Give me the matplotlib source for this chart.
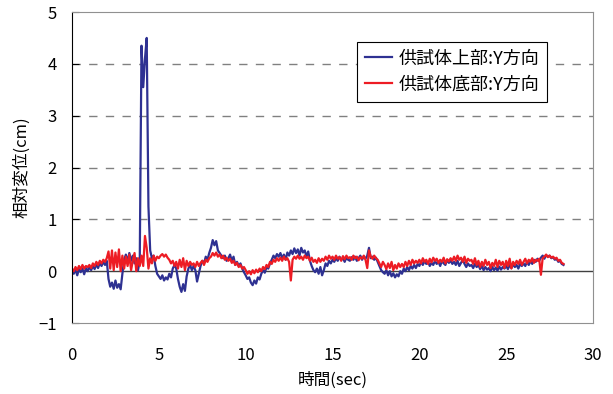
import numpy as np
import matplotlib
matplotlib.use("Agg")
import matplotlib.pyplot as plt

plt.rcParams['font.family'] = ['Noto Sans CJK JP', 'DejaVu Sans']

# sampled every 0.1 sec, 0.0 .. 28.3
dt = 0.1
top_y = [  # 供試体上部 Y方向 (cm)
    0.02, -0.05, 0.03, -0.08, 0.04, -0.02, 0.05, -0.06, 0.06, 0.00,
    0.08, 0.02, 0.10, 0.04, 0.13, 0.06, 0.16, 0.10, 0.18, 0.12,
    0.20, -0.15, -0.30, -0.22, -0.34, -0.18, -0.32, -0.25, -0.35, -0.05,
    0.22, 0.32, 0.18, 0.35, 0.20, 0.30, 0.15, 0.25, 0.02, 0.20,
    4.35, 3.55, 4.10, 4.50, 1.25, 0.40, 0.25, 0.30, 0.10, -0.05,
    -0.10, -0.15, -0.08, -0.18, -0.12, -0.16, -0.05, -0.12, 0.05, 0.12,
    0.05, -0.15, -0.30, -0.40, -0.25, -0.38, -0.10, 0.05, 0.12, 0.02,
    0.10, 0.02, -0.20, -0.05, 0.10, 0.20, 0.15, 0.28, 0.22, 0.35,
    0.45, 0.60, 0.50, 0.58, 0.40, 0.35, 0.30, 0.25, 0.30, 0.20,
    0.25, 0.32, 0.20, 0.28, 0.12, 0.18, 0.10, 0.15, 0.05, -0.02,
    -0.08, -0.15, -0.12, -0.22, -0.27, -0.18, -0.24, -0.12, -0.16, -0.05,
    0.02, -0.03, 0.08, 0.05, 0.15, 0.22, 0.30, 0.25, 0.33, 0.28,
    0.35, 0.25, 0.32, 0.22, 0.36, 0.30, 0.40, 0.33, 0.44, 0.35,
    0.42, 0.30, 0.45, 0.36, 0.40, 0.28, 0.38, 0.20, 0.10, 0.02,
    -0.02, 0.05, -0.05, 0.08, -0.08, 0.02, 0.15, 0.10, 0.20, 0.15,
    0.22, 0.18, 0.25, 0.20, 0.28, 0.22, 0.25, 0.18, 0.26, 0.22,
    0.20, 0.27, 0.22, 0.28, 0.20, 0.25, 0.30, 0.22, 0.28, 0.24,
    0.30, 0.45, 0.25, 0.28, 0.22, 0.26, 0.18, 0.10, 0.02, -0.02,
    -0.05, 0.02, -0.08, 0.00, -0.10, -0.04, -0.12, -0.06, -0.10, 0.00,
    -0.05, 0.05, 0.00, 0.08, 0.02, 0.10, 0.05, 0.12, 0.06, 0.14,
    0.10, 0.18, 0.12, 0.20, 0.14, 0.18, 0.10, 0.16, 0.12, 0.20,
    0.14, 0.18, 0.10, 0.20, 0.15, 0.12, 0.22, 0.16, 0.20, 0.14,
    0.18, 0.12, 0.20, 0.10, 0.16, 0.22, 0.14, 0.08, 0.15, 0.10,
    0.12, 0.06, 0.14, 0.08, 0.12, 0.04, 0.10, 0.02, 0.08, 0.03,
    0.06, 0.00, 0.08, 0.02, 0.07, 0.01, 0.09, 0.03, 0.08, 0.05,
    0.10, 0.04, 0.12, 0.06, 0.13, 0.08, 0.12, 0.05, 0.14, 0.10,
    0.15, 0.10, 0.18, 0.12, 0.20, 0.14, 0.22, 0.18, 0.24, 0.20,
    0.26, 0.30, 0.24, 0.31, 0.28, 0.30, 0.25, 0.27, 0.22, 0.24,
    0.18, 0.20, 0.14, 0.12,
]
bottom_y = [  # 供試体底部 Y方向 (cm)
    0.05, 0.00, 0.08, 0.02, 0.10, 0.04, 0.12, 0.05, 0.10, 0.08,
    0.12, 0.06, 0.15, 0.10, 0.18, 0.12, 0.20, 0.15, 0.22, 0.18,
    0.25, 0.38, 0.05, 0.40, 0.02, 0.36, 0.08, 0.42, 0.00, 0.30,
    0.05, 0.28, 0.10, 0.32, 0.02, 0.20, 0.35, 0.00, 0.25, 0.10,
    0.30, 0.10, 0.68, 0.45, 0.05, 0.25, 0.15, 0.30, 0.20, 0.28,
    0.25, 0.30, 0.33, 0.28, 0.32, 0.26, 0.22, 0.15, 0.20, 0.10,
    0.18, 0.05, 0.22, 0.08, 0.25, 0.02, 0.20, 0.10, 0.18, 0.12,
    0.15, 0.08, 0.18, 0.10, 0.16, 0.20, 0.12, 0.22, 0.18, 0.25,
    0.28, 0.35, 0.30, 0.36, 0.28, 0.32, 0.25, 0.30, 0.22, 0.26,
    0.20, 0.24, 0.16, 0.20, 0.12, 0.16, 0.08, 0.12, 0.05, 0.08,
    0.02, -0.05, 0.00, -0.06, 0.02, -0.04, 0.03, -0.02, 0.05, 0.00,
    0.08, 0.04, 0.12, 0.08, 0.18, 0.14, 0.22, 0.18, 0.25, 0.20,
    0.26, 0.20, 0.28, 0.22, 0.25, 0.18, -0.18, 0.22, 0.28, 0.24,
    0.30, 0.24, 0.28, 0.22, 0.30, 0.25, 0.28, 0.20, 0.26, 0.18,
    0.22, 0.16, 0.25, 0.18, 0.24, 0.20, 0.28, 0.22, 0.30, 0.24,
    0.28, 0.22, 0.30, 0.24, 0.27, 0.20, 0.29, 0.23, 0.30, 0.25,
    0.27, 0.22, 0.30, 0.25, 0.28, 0.21, 0.27, 0.24, 0.30, 0.22,
    0.06, 0.40, 0.28, 0.24, 0.30, 0.25, 0.22, 0.15, 0.08, 0.18,
    0.12, 0.04, 0.15, 0.06, 0.18, 0.02, 0.12, 0.05, 0.15, 0.08,
    0.14, 0.08, 0.18, 0.10, 0.20, 0.12, 0.22, 0.15, 0.20, 0.16,
    0.22, 0.15, 0.25, 0.18, 0.22, 0.14, 0.24, 0.17, 0.26, 0.20,
    0.24, 0.16, 0.22, 0.18, 0.26, 0.15, 0.23, 0.19, 0.25, 0.20,
    0.28, 0.20, 0.30, 0.22, 0.26, 0.18, 0.28, 0.16, 0.24, 0.20,
    0.22, 0.14, 0.25, 0.12, 0.20, 0.08, 0.18, 0.10, 0.22, 0.12,
    0.18, 0.06, 0.16, 0.10, 0.22, 0.08, 0.20, 0.12, 0.18, 0.06,
    0.20, 0.10, 0.24, 0.05, 0.18, 0.12, 0.20, 0.14, 0.22, 0.12,
    0.18, 0.24, 0.15, 0.22, 0.18, 0.25, 0.16, 0.22, 0.20, 0.24,
    -0.07, 0.25, 0.28, 0.32, 0.27, 0.30, 0.26, 0.28, 0.24, 0.26,
    0.20, 0.22, 0.16, 0.14,
]
t = np.arange(len(top_y)) * dt

fig = plt.figure(figsize=(6.13, 3.94), dpi=100)
ax = fig.add_axes([0.1175, 0.1802, 0.8499, 0.7893])

ax.plot(t, top_y, color='#2E3192', lw=1.6, label='供試体上部:Y方向')
ax.plot(t, bottom_y, color='#ED1C24', lw=1.6, label='供試体底部:Y方向')

ax.set_xlim(0, 30)
ax.set_ylim(-1, 5)
ax.set_xticks(range(0, 31, 5))
ax.set_yticks(range(-1, 6))
for yv in [1, 2, 3, 4]:
    ax.axhline(yv, color='#808080', lw=1, ls=(0, (6, 6)), zorder=0)
ax.axhline(0, color='#404040', lw=1, zorder=1)

ax.spines['left'].set_color('black')
for s in ['top', 'right', 'bottom']:
    ax.spines[s].set_color('#909090')
ax.tick_params(axis='y', direction='in', length=5, labelsize=12, pad=11)
ax.tick_params(axis='x', length=0, labelsize=12, pad=17)

ax.set_xlabel('時間(sec)', fontsize=12)
ax.set_ylabel('相対変位(cm)', fontsize=12)
ax.xaxis.set_label_coords(0.5, -0.155)
ax.yaxis.set_label_coords(-0.08, 0.5)

leg = ax.legend(loc='upper left', bbox_to_anchor=(0.547, 0.905), fontsize=13,
                frameon=True, fancybox=False, edgecolor='black', framealpha=1,
                handlelength=1.5, handletextpad=0.35, borderpad=0.45,
                labelspacing=0.45, borderaxespad=0)
leg.get_frame().set_linewidth(0.8)

fig.savefig('out.png', dpi=100)
